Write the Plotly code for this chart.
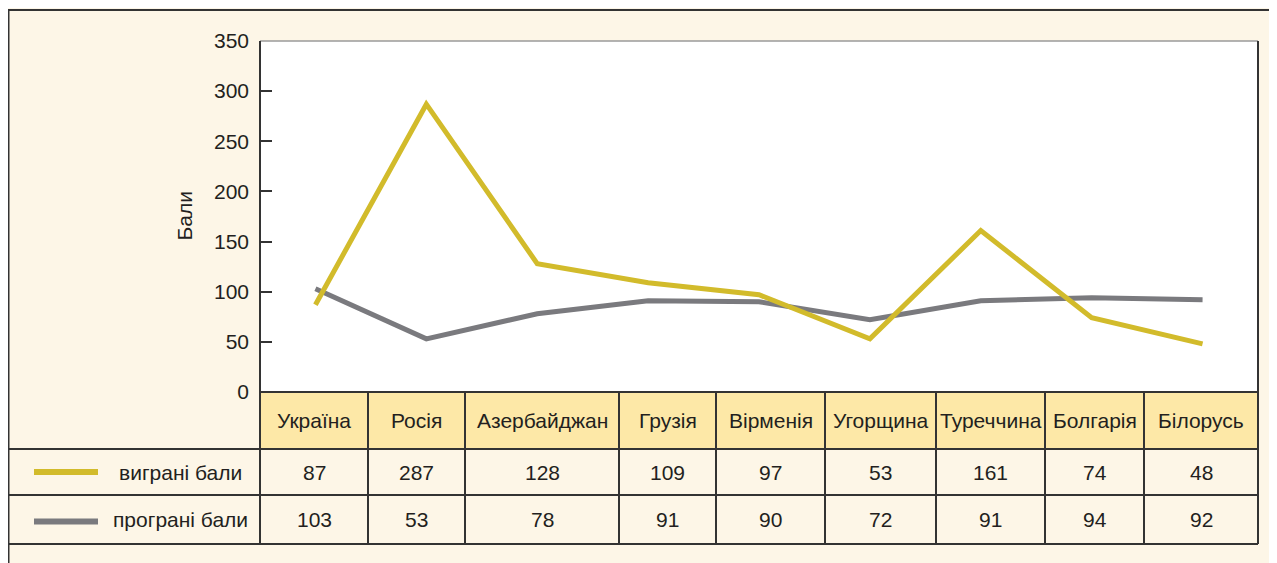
import plotly.graph_objects as go

# ---- data ----
countries = ["Україна", "Росія", "Азербайджан", "Грузія", "Вірменія",
             "Угорщина", "Туреччина", "Болгарія", "Білорусь"]
won_points = [87, 287, 128, 109, 97, 53, 161, 74, 48]
lost_points = [103, 53, 78, 91, 90, 72, 91, 94, 92]
series_names = ["виграні бали", "програні бали"]
y_tick_values = [0, 50, 100, 150, 200, 250, 300, 350]
y_title = "Бали"

# ---- style (screen pixel positions; page body adds an 8px offset) ----
OFF = 8
W, H = 1277, 563
L, R, T, B = 260, 1258, 41, 392          # plot area on screen
col_edges = [260, 368, 465, 619, 716, 825, 936, 1045, 1144, 1258]
row_edges = [392, 449, 495, 544]
FONT = "Liberation Sans, Arial, Helvetica, sans-serif"
TXT = "#231f20"
BG = "#fdf6e7"
HEAD = "#fde8a7"
YEL = "#d2bb2b"
GRY = "#7a7a7e"
DARK = "#333333"
series_colors = [YEL, GRY]
FS = 21


def px(x):
    return (x - L) / (R - L)


def py(y):
    return (B - y) / (B - T)


fig = go.Figure()
fig.add_trace(go.Scatter(x=countries, y=lost_points, mode="lines", name=series_names[1],
                         line=dict(color=GRY, width=5), hoverinfo="x+y"))
fig.add_trace(go.Scatter(x=countries, y=won_points, mode="lines", name=series_names[0],
                         line=dict(color=YEL, width=5), hoverinfo="x+y"))

shapes = []


def hline(y, x0, x1, color=DARK, width=2):
    shapes.append(dict(type="line", xref="paper", yref="paper", x0=px(x0), x1=px(x1),
                       y0=py(y), y1=py(y), line=dict(color=color, width=width), layer="above"))


def vline(x, y0, y1, color=DARK, width=2):
    shapes.append(dict(type="line", xref="paper", yref="paper", x0=px(x), x1=px(x),
                       y0=py(y0), y1=py(y1), line=dict(color=color, width=width), layer="above"))


# header fill
shapes.append(dict(type="rect", xref="paper", yref="paper", x0=px(L), x1=px(R),
                   y0=py(row_edges[0]), y1=py(row_edges[1]), fillcolor=HEAD,
                   line=dict(width=0), layer="below"))
# outer frame
hline(10, OFF, 1300)
vline(OFF, 10, 580, width=3)
# plot frame
hline(T, L, R, color="#9a9a9a", width=1.5)
vline(R, T, row_edges[-1])
vline(L, T, row_edges[-1])
# table grid
hline(row_edges[0], L, R)
for y in row_edges[1:]:
    hline(y, OFF, R)
for x in col_edges[1:-1]:
    vline(x, row_edges[0], row_edges[-1])

annotations = []


def text(x, y, s, anchor="center", size=FS, angle=0):
    annotations.append(dict(xref="paper", yref="paper", x=px(x), y=py(y), text=s,
                            showarrow=False, xanchor=anchor, yanchor="middle",
                            textangle=angle, font=dict(family=FONT, size=size, color=TXT)))


row_mid = [(row_edges[i] + row_edges[i + 1]) / 2 for i in range(3)]
for i, c in enumerate(countries):
    cx = (col_edges[i] + col_edges[i + 1]) / 2
    text(cx, row_mid[0], c)
    text(cx, row_mid[1], str(won_points[i]))
    text(cx, row_mid[2], str(lost_points[i]))

# legend rows
for k, (name, col) in enumerate(zip(series_names, series_colors)):
    ym = row_mid[k + 1] + (0 if k == 0 else 2)
    shapes.append(dict(type="line", xref="paper", yref="paper", x0=px(34), x1=px(98),
                       y0=py(ym), y1=py(ym), line=dict(color=col, width=6), layer="above"))
    text(180, row_mid[k + 1], name)

# axis title
text(184, (T + B) / 2, y_title, angle=-90)

fig.update_layout(
    width=W, height=H,
    margin=dict(l=L - OFF, r=W - (R - OFF), t=T - OFF, b=H - (B - OFF), pad=0),
    paper_bgcolor=BG, plot_bgcolor="white",
    showlegend=False,
    shapes=shapes, annotations=annotations,
    xaxis=dict(type="category", range=[-0.5, len(countries) - 0.5], showticklabels=False,
               showgrid=False, zeroline=False, ticks="", showline=False, fixedrange=True),
    yaxis=dict(range=[0, 350], tickvals=y_tick_values, ticks="inside", ticklen=12,
               tickwidth=2, tickcolor=DARK, showgrid=False, zeroline=False,
               showline=False, ticklabelstandoff=10,
               tickfont=dict(family=FONT, size=FS, color=TXT), fixedrange=True),
    font=dict(family=FONT, color=TXT),
)

fig.write_html("out.html")
